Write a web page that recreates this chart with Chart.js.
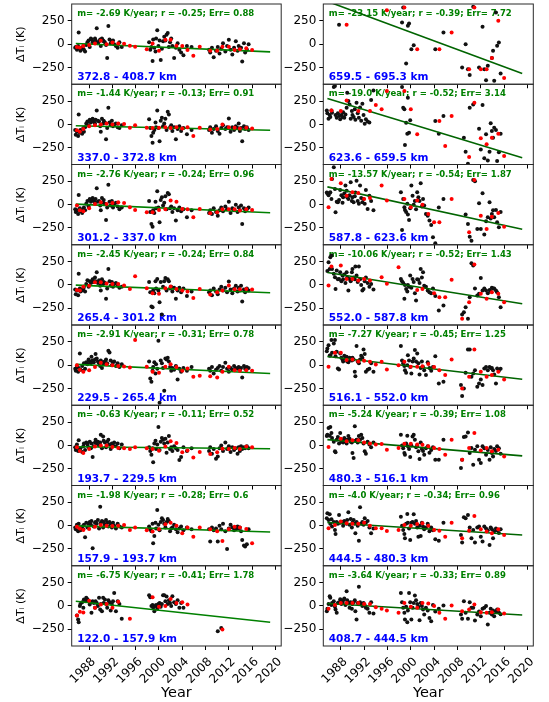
<!DOCTYPE html>
<html><head><meta charset="utf-8">
<script src="https://cdn.jsdelivr.net/npm/chart.js@4.4.0/dist/chart.umd.min.js"></script>
<style>
html,body{margin:0;padding:0;background:#fff;}
#wrap{position:relative;width:549px;height:702px;overflow:hidden;background:#fff;}
#wrap canvas{position:absolute;left:0;top:0;}
</style></head><body><div id="wrap"></div>
<script>
const _ = null;
// shared observation times (decimal year)
const blackYears = [
 1985.6,1985.7,1985.9,1986.1,1986.2,1986.4,1986.5,1986.8,1987.0,1987.1,1987.3,1987.5,1987.7,1987.9,1988.1,1988.3,1988.4,1988.6,1988.8,1989.0,1989.1,1989.3,1989.5,1989.7,1989.9,1990.0,1990.2,1990.4,1990.5,1990.7,1990.9,1991.1,1991.3,1991.5,1991.7,1991.9,1992.1,1992.3,1992.6,1992.9,1993.2,1993.6,
 1998.3,1998.5,1998.7,1998.9,1999.0,1999.2,1999.4,1999.5,1999.7,1999.9,2000.1,2000.3,2000.5,2000.7,2000.9,2001.1,2001.3,2001.5,2001.7,2001.9,2002.1,2002.3,2002.6,2002.9,2003.2,2003.5,2003.8,2004.2,2004.8,2005.6,
 2008.6,2008.8,2009.1,2009.4,2009.8,2010.1,2010.4,2010.7,2011.0,2011.4,2011.7,2012.0,2012.3,2012.6,2012.9,2013.2,2013.5,2013.7,2013.9,2014.1,2014.3,2014.6,2014.8,2015.1,2015.4];
const redYears = [
 1985.9,1986.4,1987.0,1988.0,1989.0,1990.0,1991.0,1992.0,1993.0,1994.0,1995.0,1995.9,
 1997.9,1998.9,2000.0,2001.1,2002.0,2003.0,2004.0,2004.9,2005.9,2007.0,
 2008.8,2010.0,2010.9,2012.0,2013.0,2013.9,2015.0,2016.0];
const yearTicks = [1988,1992,1996,2000,2004,2008,2012,2016,2020];
const tempTicks = [-250,0,250];
const fitYears = [1985.7,2019.1];

// ---- left column (top to bottom) ----
const black_372_408 = [
 -40,-30,-60,-20,125,-50,-70,-40,-20,-60,-80,-10,20,40,-30,60,50,20,30,60,40,170,10,30,50,-20,60,40,30,20,-10,-150,195,50,10,30,40,0,-20,-40,20,-30,
 20,-60,-30,-180,50,-40,-80,60,150,-20,40,-170,-50,30,80,40,100,118,-30,20,60,-20,-150,-40,10,-60,-90,-120,-20,-30,
 -60,-90,-40,-140,-70,-30,-100,-50,10,-80,-20,46,-60,-110,-40,30,-70,-20,-50,-40,-186,10,-90,-60,0];
const red_372_408 = [-30,-35,-20,-10,7,36,0,18,7,5,-18,-28, -54,7,-71,46,46,-18,-20,-64,-125,-28, -71,-71,-28,-28,-64,-54,-43,-64];

const black_337_372 = [
 -60,-110,-80,-125,107,-90,-60,-100,-40,-80,-30,10,30,-10,50,20,40,60,30,10,50,150,40,30,-20,-80,60,10,40,20,-160,-40,178,20,-10,40,-20,0,10,-30,-40,-10,
 54,-40,-125,-196,-90,-60,20,-30,150,-40,-180,40,70,-20,10,60,-60,136,107,-30,-10,-70,-30,-160,-50,-20,-70,-40,-107,-60,
 -60,-30,-90,-50,-20,-70,-100,-40,-10,-50,-30,64,-80,-30,-60,-20,-40,10,-70,-40,-180,-20,-50,-30,-60];
const red_337_372 = [-64,-80,-50,-20,-10,0,10,0,10,5,-36,-10, -36,-40,-36,-30,-40,-30,-45,-30,-125,-36, -54,-50,0,-30,-36,-45,-36,-45];

const black_301_337 = [
 -50,-80,-60,-100,104,-40,-70,-90,-50,-30,-60,10,40,-20,60,30,50,70,40,20,60,175,30,40,-10,-60,70,20,50,10,-164,-30,214,30,-10,40,-30,10,20,-20,-50,-30,
 40,-80,-207,-236,-60,-90,30,-40,143,-30,-190,50,80,-10,20,90,-50,125,110,-40,-20,-80,-40,-170,-60,-30,-70,-50,-136,-60,
 -90,-60,-100,-40,-80,-120,-60,-30,-70,-20,-50,32,-90,-40,-60,0,-80,-30,-60,-10,-207,-40,-70,-50,-30];
const red_301_337 = [-10,-60,-70,-40,7,25,7,18,25,18,-29,-57, -82,-82,-57,-50,43,32,-46,-50,-136,-46, -93,-82,-50,-50,-50,-64,-50,-57];

const black_265_301 = [
 -50,-100,-60,-110,118,-40,-70,-60,-40,-20,-70,10,50,-20,40,20,30,60,30,80,40,136,20,50,-10,-60,60,10,30,20,-150,-40,171,40,-10,30,-20,10,20,-10,-30,-20,
 30,-80,-232,-240,-60,-90,40,-40,64,-60,-186,30,-318,-20,40,75,-60,60,40,-40,-20,-70,-30,-150,-60,-30,-80,-40,-120,-70,
 -80,-60,-110,-40,-70,-100,-50,-20,-60,-30,-80,35,-50,-90,-40,-10,-70,-30,-60,-10,-178,-50,-80,-40,-60];
const red_265_301 = [-54,-60,-20,-10,29,29,15,10,10,-7,-43,93, -36,-90,-96,-36,-18,-43,-60,-70,-140,-43, -104,-79,-60,-7,-46,-46,-43,-50];

const black_229_265 = [
 -40,-60,-20,-70,-30,125,-50,-10,-60,20,-40,30,10,60,40,20,90,50,30,60,118,70,40,20,-10,50,-30,30,10,40,60,20,153,136,50,0,30,40,-10,20,-20,10,
 40,-143,-178,-60,-20,30,-90,10,-40,260,-403,50,20,-30,-275,71,60,80,40,-20,-60,-30,-50,-10,-153,-40,-70,-30,-60,-20,
 -40,-60,-20,-90,-50,-30,-10,-60,-20,25,-40,-70,-30,-50,-10,-30,-40,-20,-50,-30,-132,-10,-40,-20,-30];
const red_229_265 = [0,-50,-71,-54,-20,25,10,0,-10,-15,-25,268, -18,-71,-82,-18,10,-20,-61,-36,-125,-114, -118,-132,-71,-18,-54,-61,-54,-61];

const black_193_229 = [
 -20,-50,10,-60,54,-40,-30,-70,-10,20,-50,30,10,-20,40,-30,20,-125,-10,30,60,20,40,0,30,114,-30,96,50,30,-20,40,60,10,-40,20,0,30,-10,20,-30,10,
 -20,-60,-100,-30,-182,20,50,-40,10,196,-50,40,80,60,20,70,-80,30,100,-40,-20,-60,-10,-30,-50,-157,-125,-20,-60,-30,
 -60,-20,-90,-40,-143,-120,-30,0,-60,30,-40,-10,-70,-20,-50,-30,-90,-20,-60,-10,-40,-20,-30,-10,-30];
const red_193_229 = [-21,-60,-82,-39,-11,0,0,-18,-29,-30,-39,-20, -30,-39,-57,-11,43,25,-75,-54,-129,-71, -93,-75,-36,-39,-29,-39,-11,-21];

const black_157_193 = [
 -20,-40,10,-60,20,-30,-50,-10,-40,10,-125,30,-20,20,40,10,50,-243,-10,30,40,20,60,-30,203,30,50,-20,40,10,60,30,-10,40,20,-20,30,0,-30,20,-10,-20,
 -10,-40,-60,20,-189,-111,30,-30,168,10,-50,40,79,60,20,-20,40,70,50,-60,-30,-20,10,-40,-70,-30,-10,-50,-20,-40,
 -40,-171,-20,-50,-30,-171,0,-40,20,-60,-250,-30,10,-20,-50,-40,-10,-30,-20,-60,-154,-214,-225,-200,-40];
const red_157_193 = [-11,-30,-46,-36,-11,7,0,-5,0,7,-46,-20, -50,-64,-39,14,32,0,-82,-21,-118,-21, -39,-60,-164,-39,-11,-21,-36,-189];

const black_122_157 = [
 _,_,-104,-146,-175,0,20,40,-20,68,50,86,70,50,14,40,-75,50,30,-20,50,32,0,86,-39,20,-57,86,30,68,20,-20,60,40,-50,20,50,139,-57,50,20,-139,
 114,93,0,10,-20,-57,0,10,-30,20,30,-10,20,114,114,50,100,20,60,30,0,104,40,20,60,-20,30,-21,_,_,
 _,_,_,_,_,-271,_,-236,_,_,_,_,_,_,_,_,_,_,_,_,_,_,_,_,_];
const red_122_157 = [-104,-64,-70,54,-21,14,21,-21,43,_,-139,_, _,93,-10,0,75,32,39,14,_,_, _,_,-254,_,_,_,_,_];

// ---- right column (top to bottom) ----
const black_659_695 = [
 _,_,_,_,_,_,_,_,_,_,_,_,207,_,_,_,_,_,_,_,_,_,_,_,_,_,_,_,_,_,_,_,_,_,_,_,_,_,_,_,_,_,
 _,232,393,_,_,-207,_,196,221,_,-54,_,-11,_,_,_,_,_,_,_,_,_,_,_,_,_,_,-54,_,125,
 _,-250,_,0,-268,-330,_,400,_,_,-250,_,186,-268,-386,-232,_,_,-150,-71,-393,339,-18,18,-314];
const red_659_695 = [_,_,_,_,207,_,_,_,_,_,_,364, _,393,_,-54,_,_,_,-54,_,125, _,-268,393,-268,-268,-150,250,-364];

const black_623_659 = [
 150,120,60,100,80,150,125,400,410,100,70,120,90,54,100,80,130,70,107,178,339,250,214,60,143,100,79,161,50,232,120,71,180,40,221,100,7,54,30,20,260,364,
 _,400,178,161,-221,18,-100,286,-90,43,_,_,_,_,_,_,_,_,_,_,_,_,_,_,_,_,_,36,-100,89,
 _,_,-143,-293,-421,178,_,214,_,_,-46,-268,207,-364,-107,-386,-293,11,-71,-143,-36,-60,-393,-300,-100];
const red_623_659 = [_,150,_,143,257,_,143,_,143,207,161,357, _,357,161,-107,_,_,_,36,-232,89, _,-350,232,-150,-214,-143,-100,-339];

const black_587_623 = [
 130,120,100,125,132,60,275,400,168,-82,30,25,50,157,100,20,80,120,204,150,80,60,100,239,40,80,25,90,130,257,40,10,204,70,25,60,10,157,-46,96,40,-60,
 132,-271,61,-29,-57,-80,10,-107,-164,-40,204,96,0,40,-50,132,79,40,229,-20,60,-10,-100,-118,-171,-218,-350,-414,-30,61,
 _,_,_,-107,-207,-343,-386,264,250,-261,14,-261,121,-321,-179,-136,25,-150,-100,-60,-136,-57,-189,-243,-80];
const red_587_623 = [-29,275,_,229,96,132,125,61,71,_,204,43, _,61,-29,43,0,-100,-189,-189,_,61, _,-296,264,-118,-261,-129,-89,-236];

const black_552_587 = [
 _,150,243,171,296,314,171,118,82,-43,154,60,64,136,40,100,60,110,20,136,80,-61,64,40,136,171,80,60,196,100,30,196,60,0,-61,-43,40,80,20,-20,10,-50,
 64,40,20,-150,0,-43,-70,0,-20,100,-30,64,30,-89,-168,60,54,20,171,80,136,-10,-20,-61,-79,-90,-40,-120,-275,-221,
 _,-318,-293,-239,-364,-132,232,207,-40,-114,-96,75,-61,-40,-61,-90,-54,-70,-30,-40,-40,-60,-80,-132,-239];
const red_552_587 = [-7,196,_,207,64,64,46,64,46,_,82,11, 189,_,_,-54,-43,_,-89,-132,-132,54, -364,-186,218,-96,-150,-79,-96,-186];

const black_516_552 = [
 150,179,214,100,107,268,132,232,268,96,143,-36,-46,125,80,60,40,100,70,90,40,30,80,60,50,80,60,-71,-118,204,40,20,60,100,80,168,120,-71,-50,-40,20,-70,
 204,50,20,-10,-54,-82,0,107,50,-20,-89,40,70,161,40,125,20,-100,-30,40,-20,-54,-107,30,-30,-60,-20,96,-196,-179,
 -214,-332,-250,-82,168,168,-125,-90,-54,-232,-196,-154,-214,-36,-20,-54,-20,-30,-30,-54,-100,-196,-36,-60,-40];
const red_516_552 = [-18,_,132,132,54,61,40,46,36,7,36,-46, 0,36,-18,-18,-11,11,-20,-54,-107,61, -250,-125,168,-71,-125,-107,-71,-154];

const black_480_516 = [
 100,114,186,104,196,132,79,40,-64,-75,60,90,20,132,40,60,30,80,50,20,60,100,70,40,30,-82,-136,204,50,60,30,100,60,114,80,20,-64,-89,40,10,-20,30,
 114,0,-30,-82,-100,20,104,-10,-40,-125,0,96,114,60,-20,0,-64,-146,30,-40,-60,-100,-30,-10,-80,-50,-20,-154,-154,61,
 -243,-154,89,96,139,-82,-29,-207,-46,-10,-154,-189,-10,-30,-100,-50,-154,-20,-82,-118,-40,-60,-10,-30,-90];
const red_480_516 = [-18,_,_,71,43,54,54,32,20,10,14,-46, -29,18,18,10,7,-10,-29,-39,-100,61, -154,-29,132,-54,-29,-64,-46,-118];

const black_444_480 = [
 80,132,60,121,20,68,-10,40,-46,-89,40,20,114,30,40,40,0,50,30,20,60,143,10,70,-20,30,60,20,-82,40,0,-161,196,20,40,10,79,30,50,-20,-82,-30,
 96,0,-46,-89,-136,20,125,30,-30,-154,30,40,121,20,50,-20,-118,0,-111,30,-10,-40,-20,20,-60,-20,-50,-146,-161,32,
 -100,-182,89,79,114,-20,-136,-46,-182,-20,-10,-118,-171,-10,-30,-50,-207,-20,-40,-136,-60,-30,-50,-80,-40];
const red_444_480 = [-29,_,7,43,25,20,20,32,0,-29,-29,-57, -46,7,0,18,25,0,-46,-54,-118,32, -136,-54,104,-39,-64,-82,-39,-100];

const black_408_444 = [
 -57,-30,20,104,86,10,30,50,-10,-39,-75,30,40,70,20,40,60,80,10,157,60,30,-20,40,-30,20,40,60,-57,-146,30,204,40,20,0,30,10,-20,-30,-75,40,-82,
 139,40,-20,-75,-146,-10,-175,-50,139,40,-146,-20,30,111,60,20,-10,-154,30,0,-40,-93,-20,-50,-129,-164,10,-60,-30,4,
 -93,-139,50,-75,-139,39,-20,-21,-157,-93,-60,-111,-30,-20,0,-200,-75,-30,-93,-50,-111,-60,-40,-70,-90];
const red_408_444 = [-32,_,10,32,30,30,32,21,20,-14,-30,-50, -75,32,-10,-21,32,25,0,-75,-139,4, -57,-39,14,-68,-75,-68,-39,-82];

const blackSeries = [black_372_408,black_337_372,black_301_337,black_265_301,black_229_265,black_193_229,black_157_193,black_122_157,
  black_659_695,black_623_659,black_587_623,black_552_587,black_516_552,black_480_516,black_444_480,black_408_444];
const redSeries = [red_372_408,red_337_372,red_301_337,red_265_301,red_229_265,red_193_229,red_157_193,red_122_157,
  red_659_695,red_623_659,red_587_623,red_552_587,red_516_552,red_480_516,red_444_480,red_408_444];
const altRanges = ['372.8 - 408.7 km','337.0 - 372.8 km','301.2 - 337.0 km','265.4 - 301.2 km','229.5 - 265.4 km','193.7 - 229.5 km','157.9 - 193.7 km','122.0 - 157.9 km',
  '659.5 - 695.3 km','623.6 - 659.5 km','587.8 - 623.6 km','552.0 - 587.8 km','516.1 - 552.0 km','480.3 - 516.1 km','444.5 - 480.3 km','408.7 - 444.5 km'];
const slopes = ['-2.69','-1.44','-2.76','-2.45','-2.91','-0.63','-1.98','-6.75','-23.15','-19.0','-13.57','-10.06','-7.27','-5.24','-4.0','-3.64'];
const corrs = ['-0.25','-0.13','-0.24','-0.24','-0.31','-0.11','-0.28','-0.41','-0.39','-0.52','-0.54','-0.52','-0.45','-0.39','-0.34','-0.33'];
const errs = ['0.88','0.91','0.96','0.84','0.78','0.52','0.6','1.78','7.72','3.14','1.87','1.43','1.25','1.08','0.96','0.89'];
const fitStart = [6,-15,5,-3,8,-15,-3,50, 458,278,190,133,92,62,33,25];
const fitEnd = [-83,-63,-87,-85,-89,-36,-69,-175, -315,-357,-263,-203,-151,-113,-101,-97];

// ---- layout ----
const W = 549, H = 702;
const ROW_TOP = 4, ROW_H = 80.25;
const COLS = [
  {left:71.7, width:209.5, yW:71.7, title:true, lineColor:'#008000'},
  {left:323.3, width:210, yW:40, title:false, lineColor:'#006400'}
];
const FONT = 'DejaVu Sans';

const decoPlugin = {
  id:'deco',
  beforeDatasetsDraw(chart, args, opts){
    const a = chart.chartArea, ctx = chart.ctx;
    ctx.save();
    ctx.textAlign = 'left'; ctx.textBaseline = 'middle';
    ctx.font = 'bold 8.5px "' + FONT + '"';
    ctx.fillStyle = '#008000';
    ctx.fillText(opts.stats, a.left + 5.5, a.top + 10);
    ctx.font = 'bold 10.5px "' + FONT + '"';
    ctx.fillStyle = '#0000ff';
    ctx.fillText(opts.alt, a.left + 5.5, a.bottom - 6.5);
    ctx.restore();
  },
  afterDraw(chart){
    const a = chart.chartArea, ctx = chart.ctx;
    ctx.save();
    ctx.strokeStyle = '#2a2a2a'; ctx.lineWidth = 1;
    ctx.strokeRect(a.left, a.top, a.right - a.left, a.bottom - a.top);
    ctx.restore();
  }
};

const wrap = document.getElementById('wrap');
for (let idx = 0; idx < 16; idx++) {
  const col = idx < 8 ? 0 : 1, row = idx % 8, g = COLS[col];
  const top = ROW_TOP + row * ROW_H, bottom = top + ROW_H;
  const isBottom = row === 7;
  const xH = isBottom ? H - bottom : 0;
  const cv = document.createElement('canvas');
  cv.width = W; cv.height = H;
  wrap.appendChild(cv);
  const blackPts = blackYears.map((x, i) => ({x, y: blackSeries[idx][i]})).filter(d => d.y !== null);
  const redPts = redYears.map((x, i) => ({x, y: redSeries[idx][i]})).filter(d => d.y !== null);
  const fitPts = [{x: fitYears[0], y: fitStart[idx]}, {x: fitYears[1], y: fitEnd[idx]}];
  new Chart(cv, {
    type: 'scatter',
    data: {datasets: [
      {data: redPts, backgroundColor: '#ff0000', pointRadius: 2, pointBorderWidth: 0, order: 0, clip: 0},
      {data: fitPts, showLine: true, borderColor: g.lineColor, borderWidth: 1.6, pointRadius: 0, order: 1, clip: 0},
      {data: blackPts, backgroundColor: '#111111', pointRadius: 2, pointBorderWidth: 0, order: 2, clip: 0}
    ]},
    options: {
      responsive: false, animation: false, devicePixelRatio: 1, events: [],
      layout: {autoPadding: false, padding: {left: g.left - g.yW, right: W - g.left - g.width, top: top, bottom: H - bottom - xH}},
      plugins: {
        legend: {display: false}, tooltip: {enabled: false},
        deco: {stats: 'm= ' + slopes[idx] + ' K/year; r = ' + corrs[idx] + '; Err= ' + errs[idx], alt: altRanges[idx]}
      },
      scales: {
        x: {
          type: 'linear', min: 1985, max: 2021,
          afterBuildTicks: s => { s.ticks = yearTicks.map(v => ({value: v})); },
          afterFit: s => { s.height = xH; s.paddingLeft = 0; s.paddingRight = 0; },
          grid: {drawOnChartArea: false, drawTicks: true, tickLength: 4, color: '#000'},
          border: {display: false},
          ticks: {display: isBottom, autoSkip: false, minRotation: 45, maxRotation: 45, padding: 4.8, labelOffset: 4.6,
                  color: '#000', font: {family: FONT, size: 12}, callback: v => String(v)},
          title: {display: isBottom, text: 'Year', color: '#000', font: {family: FONT, size: 14.5}, padding: {top: 0, bottom: 0.3}}
        },
        y: {
          min: -430, max: 430,
          afterBuildTicks: s => { s.ticks = tempTicks.map(v => ({value: v})); },
          afterFit: s => { s.width = g.yW; s.paddingTop = 0; s.paddingBottom = 0; },
          grid: {drawOnChartArea: false, drawTicks: true, tickLength: 4, color: '#000'},
          border: {display: false},
          ticks: {padding: 3, color: '#000', font: {family: FONT, size: 12}, callback: v => v < 0 ? '\u2212' + (-v) : String(v)},
          title: {display: g.title, text: 'ΔTᵢ (K)', color: '#000', font: {family: FONT, size: 11}, padding: {top: 14.4, bottom: 0}}
        }
      }
    },
    plugins: [decoPlugin]
  });
}
</script></body></html>
